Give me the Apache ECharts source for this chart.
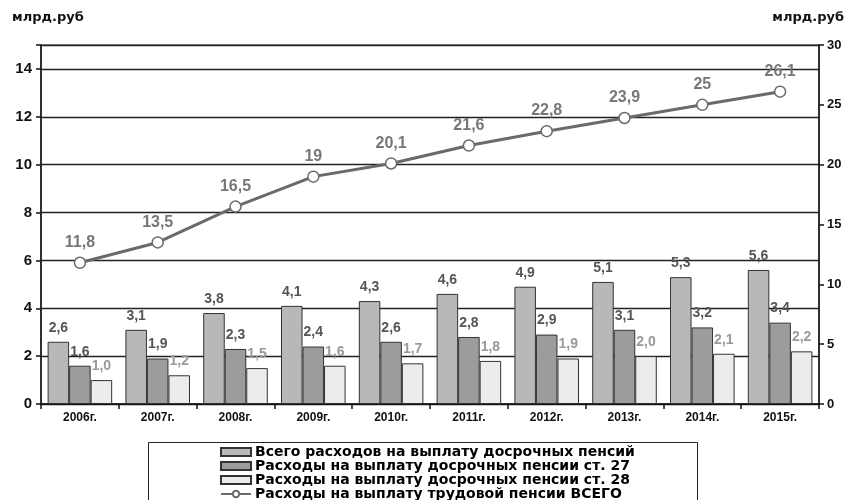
<!DOCTYPE html>
<html><head><meta charset="utf-8">
<script src="https://cdn.jsdelivr.net/npm/echarts@6/dist/echarts.min.js"></script>
<style>html,body{margin:0;padding:0;background:#fff}#c{width:848px;height:500px}</style>
</head><body><div id="c"></div>
<script>
const categories = ['2006г.','2007г.','2008г.','2009г.','2010г.','2011г.','2012г.','2013г.','2014г.','2015г.'];
const totalEarly = [2.6,3.1,3.8,4.1,4.3,4.6,4.9,5.1,5.3,5.6];
const art27 = [1.6,1.9,2.3,2.4,2.6,2.8,2.9,3.1,3.2,3.4];
const art28 = [1.0,1.2,1.5,1.6,1.7,1.8,1.9,2.0,2.1,2.2];
const laborTotal = [11.8,13.5,16.5,19,20.1,21.6,22.8,23.9,25,26.1];
const seriesNames = ['Всего расходов на выплату досрочных пенсий','Расходы на выплату досрочных пенсии ст. 27','Расходы на выплату досрочных пенсии ст. 28','Расходы на выплату трудовой пенсии ВСЕГО'];
const unitLabel = 'млрд.руб';

const FONT = 'Liberation Sans, Arial, sans-serif';
const WIDE = 'DejaVu Sans, sans-serif';
const comma1 = p => p.value.toFixed(1).replace('.', ',');
const commaAuto = p => String(p.value).replace('.', ',');
const chart = echarts.init(document.getElementById('c'));
const barLabel = (color) => ({show:true, position:'top', distance:7, formatter:comma1, color:color, fontFamily:FONT, fontWeight:'bold', fontSize:14});
chart.setOption({
  animation:false,
  backgroundColor:'#fff',
  grid:{left:41, right:29, top:45, bottom:96, show:true, borderColor:'#222', borderWidth:1},
  graphic:[
    {type:'text', left:12, top:11, style:{text:unitLabel, font:'bold 13px '+WIDE, fill:'#111'}},
    {type:'text', right:4, top:11, style:{text:unitLabel, font:'bold 13px '+WIDE, fill:'#111'}},
    {type:'rect', shape:{x:148.5, y:442.5, width:549, height:70}, style:{fill:'none', stroke:'#222', lineWidth:1}, z:-1}
  ],
  legend:{
    orient:'vertical', left:220, top:445, height:90, padding:0, itemWidth:30, itemHeight:8, itemGap:0,
    textStyle:{fontFamily:WIDE, fontWeight:'bold', fontSize:14, color:'#000', lineHeight:14, padding:[0,0,0,-1]},
    data:[
      {name:seriesNames[0], icon:'rect'},
      {name:seriesNames[1], icon:'rect'},
      {name:seriesNames[2], icon:'rect'},
      {name:seriesNames[3]}
    ]
  },
  xAxis:{
    type:'category', data:categories, boundaryGap:true,
    axisLine:{lineStyle:{color:'#111', width:1.5}},
    axisTick:{show:true, length:5, lineStyle:{color:'#111', width:1.5}},
    axisLabel:{fontFamily:FONT, fontWeight:'bold', fontSize:12, color:'#111', margin:8}
  },
  yAxis:[
    {type:'value', min:0, max:15, interval:2, position:'left',
     axisLine:{show:true, lineStyle:{color:'#111', width:1.5}},
     axisTick:{show:true, length:5, lineStyle:{color:'#111', width:1.5}},
     axisLabel:{fontFamily:FONT, fontWeight:'bold', fontSize:15, color:'#111', margin:9,
       formatter:v => (v % 2 === 0 ? String(v) : '')},
     splitLine:{show:true, lineStyle:{color:'#222', width:1.3}}},
    {type:'value', min:0, max:30, interval:5, position:'right',
     axisLine:{show:true, lineStyle:{color:'#111', width:1.5}},
     axisTick:{show:true, length:5, lineStyle:{color:'#111', width:1.5}},
     axisLabel:{fontFamily:FONT, fontWeight:'bold', fontSize:13, color:'#111', margin:8},
     splitLine:{show:false}}
  ],
  series:[
    {name:seriesNames[0], type:'bar', data:totalEarly, barGap:'0%', barCategoryGap:'17%',
     itemStyle:{color:'#b8b8b8', borderColor:'#333', borderWidth:1}, label:barLabel('#555')},
    {name:seriesNames[1], type:'bar', data:art27,
     itemStyle:{color:'#9c9c9c', borderColor:'#333', borderWidth:1}, label:barLabel('#555')},
    {name:seriesNames[2], type:'bar', data:art28,
     itemStyle:{color:'#ececec', borderColor:'#333', borderWidth:1}, label:barLabel('#999')},
    {name:seriesNames[3], type:'line', yAxisIndex:1, data:laborTotal,
     symbol:'circle', symbolSize:11,
     lineStyle:{color:'#6a6a6a', width:3},
     itemStyle:{color:'#fff', borderColor:'#6a6a6a', borderWidth:1.5},
     label:{show:true, position:'top', distance:6, formatter:commaAuto, color:'#777', fontFamily:FONT, fontWeight:'bold', fontSize:16},
     z:5}
  ]
});
</script></body></html>
